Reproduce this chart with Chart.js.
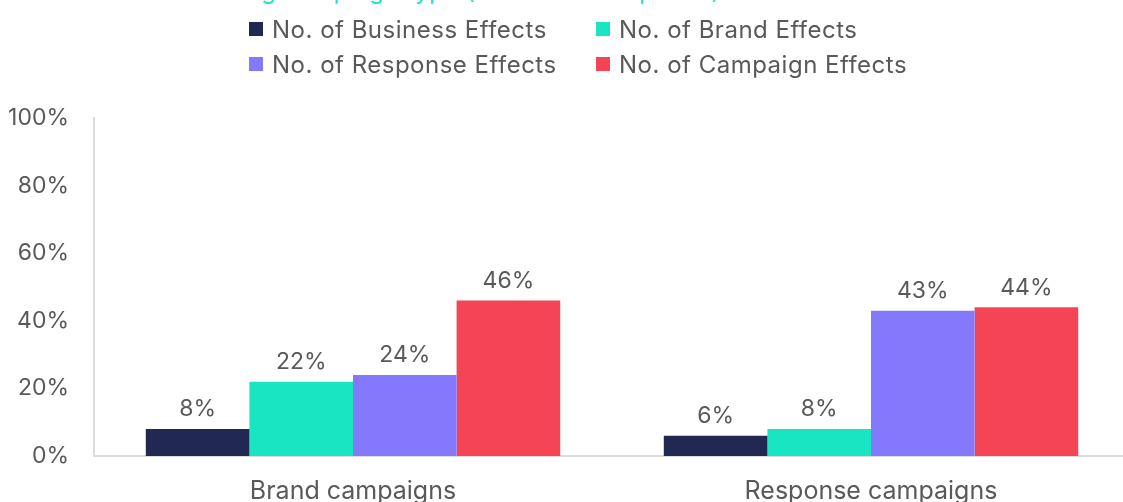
<!DOCTYPE html>
<html>
<head>
<meta charset="utf-8">
<script src="https://cdn.jsdelivr.net/npm/chart.js@4"></script>
<style>
  html, body { margin: 0; padding: 0; background: #fff; overflow: hidden; width: 1123px; height: 502px; }
  #wrap { position: absolute; left: 0; top: 0; width: 1130px; height: 512px; }
  #title { position: absolute; left: 0; top: -24px; font: 24px Inter, sans-serif; letter-spacing: 0.5px; color: #1de6c0; white-space: nowrap; }
  #legend { position: absolute; left: 249px; top: 14px; display: grid; grid-template-columns: 347px auto; row-gap: 5px; font: 24px Inter, sans-serif; letter-spacing: 0.5px; color: #595959; }
  .item { display: flex; align-items: center; height: 30px; white-space: nowrap; }
  .box { width: 14px; height: 14px; margin-right: 9px; }
</style>
</head>
<body>
<div id="wrap"><canvas id="EffectsChart"></canvas></div>
<div id="title">Share of effects including <span id="titleKey">campaign</span> type (brand and response)</div>
<div id="legend"></div>
<script>
// categories and series
const campaignTypes = ["Brand campaigns", "Response campaigns"];
const seriesNames = ["No. of Business Effects", "No. of Brand Effects", "No. of Response Effects", "No. of Campaign Effects"];
const businessEffects = [8, 6];
const brandEffects = [22, 8];
const responseEffects = [24, 43];
const campaignEffects = [46, 44];
const yTicks = [0, 20, 40, 60, 80, 100];
const colors = ["#212852", "#1ae5c2", "#8479fd", "#f44455"];

const seriesValues = [businessEffects, brandEffects, responseEffects, campaignEffects];

// title sits mostly above the top edge; line it up on the word "campaign"
const titleEl = document.getElementById("title");
titleEl.style.left = (284 - document.getElementById("titleKey").offsetLeft) + "px";

// legend in two columns
const legendEl = document.getElementById("legend");
seriesNames.forEach((name, i) => {
    const item = document.createElement("div");
    item.className = "item";
    item.innerHTML = '<span class="box" style="background:' + colors[i] + '"></span>' + name;
    legendEl.appendChild(item);
});

// value labels above the bars
const barValueLabels = {
    id: "barValueLabels",
    afterDatasetsDraw(chart) {
        const ctx = chart.ctx;
        ctx.save();
        ctx.font = "23px Inter, sans-serif";
        ctx.fillStyle = "#595959";
        ctx.textAlign = "center";
        ctx.textBaseline = "bottom";
        chart.data.datasets.forEach((ds, i) => {
            chart.getDatasetMeta(i).data.forEach((bar, j) => {
                ctx.fillText(ds.data[j] + "%", bar.x, bar.y - 8);
            });
        });
        ctx.restore();
    }
};

new Chart("EffectsChart", {
    type: "bar",
    data: {
        labels: campaignTypes,
        datasets: seriesValues.map((vals, i) => ({
            label: seriesNames[i],
            data: vals,
            backgroundColor: colors[i],
            borderWidth: 0,
            categoryPercentage: 0.8,
            barPercentage: 1.0
        }))
    },
    options: {
        responsive: true,
        maintainAspectRatio: false,
        animation: false,
        layout: {
            padding: { top: 118, right: 0, left: 0, bottom: 0 }
        },
        plugins: {
            legend: { display: false },
            tooltip: { enabled: false }
        },
        scales: {
            x: {
                grid: { display: false, drawTicks: false },
                border: { color: "#dcdcdc", width: 2 },
                ticks: {
                    color: "#595959",
                    font: { family: "Inter, sans-serif", size: 25 },
                    padding: 20
                },
                afterFit(scale) { scale.height = 56; }
            },
            y: {
                min: 0,
                max: 100,
                afterBuildTicks(scale) { scale.ticks = yTicks.map(v => ({ value: v })); },
                grid: { display: false, drawTicks: false },
                border: { color: "#dcdcdc", width: 2 },
                ticks: {
                    color: "#595959",
                    font: { family: "Inter, sans-serif", size: 23 },
                    padding: 25,
                    callback: v => v + "%"
                },
                afterFit(scale) { scale.width = 94; }
            }
        }
    },
    plugins: [barValueLabels]
});
</script>
</body>
</html>
